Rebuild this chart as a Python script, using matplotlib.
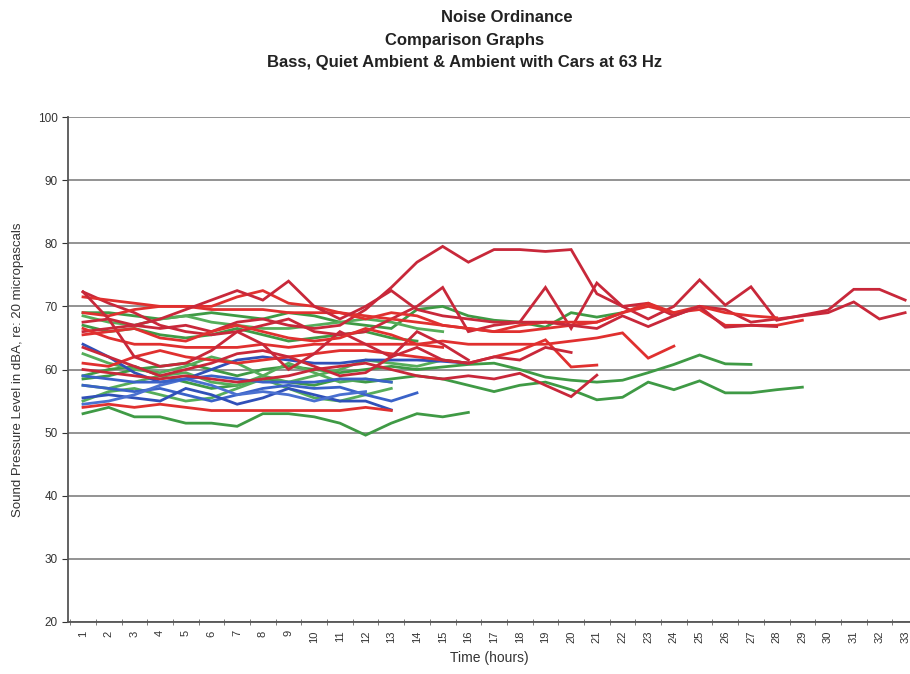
import matplotlib
matplotlib.use("Agg")
import matplotlib.pyplot as plt
from matplotlib.ticker import MultipleLocator

plt.rcParams['font.family'] = ['Liberation Sans', 'DejaVu Sans']

# hours on the category axis
hours = list(range(1, 34))

# red series (bass)
red_series = [
    [67.5, 68, 67, 66.5, 67, 66, 67.5, 68, 67, 66.5, 67, 69.5, 73, 77, 79.5, 77, 79, 79, 78.7, 79,
     72, 70, 70.5, 68.5, 70, 69.5, 67.5, 68, 68.5, 69, 70.7, 68, 69],
    [72.3, 70.5, 69, 67, 66, 65.5, 66, 67, 68, 66, 65.5, 66, 68, 70, 73, 66, 67, 67.5, 73, 66.5,
     73.7, 70, 68, 70, 74.2, 70.2, 73.1, 67.8, 68.6, 69.4, 72.7, 72.7, 71],
    [71.5, 71, 70.5, 70, 70, 69.5, 69.5, 69.5, 69, 69, 69, 68.5, 68, 67.5, 67, 66.5, 66, 67, 67.5,
     67.5, 67.5, 69, 70.5, 69, 69.5, 67, 67, 67, 67.8],
    [69, 68.5, 69.5, 70, 70, 70, 71.5, 72.5, 70.5, 70, 69, 68, 69, 68.5, 67, 66.5, 66, 66, 66.5,
     67, 67.5, 69, 70, 69, 70, 69, 68.5, 68.2],
    [66, 66.5, 67, 68, 69.5, 71, 72.5, 71, 74, 70, 68, 70, 72.5, 69.5, 68.5, 68, 67.5, 67.5, 67.5,
     67, 66.5, 68.5, 66.8, 68.5, 70, 66.7, 67, 66.8],
    [66.5, 65, 64, 64, 63.5, 63.5, 63.5, 64, 63.5, 64, 64, 64, 64, 64, 64.5, 64, 64, 64, 64, 64.5,
     65, 65.8, 61.8, 63.7],
    [61, 60.5, 62, 63, 62, 61.5, 61, 61.5, 62, 62.5, 63, 63, 62.5, 62, 61.5, 61, 62, 63, 64.7,
     60.4, 60.7],
    [63.5, 62, 60.5, 59, 60, 61, 62.5, 63, 62, 60.5, 59, 59.5, 62, 63.5, 61.5, 61, 62, 61.5, 63.5,
     62.7],
    [60, 59.5, 59, 58.5, 59, 58.5, 58, 58.5, 59, 60, 60.5, 61, 60, 59, 58.5, 59, 58.5, 59.4, 57.5,
     55.7, 59.1],
    [54, 54.5, 54, 54.5, 54, 53.5, 53.5, 53.5, 53.5, 53.5, 53.5, 54, 53.5],
    [72.3, 68, 62, 60.5, 61, 63, 66, 64, 60, 62.5, 66, 64, 62, 66, 64, 61.5],
    [65.5, 66, 66.5, 65, 64.5, 66, 67, 66, 65, 64.5, 65, 66.5, 65.5, 64, 63.5],
]
red_colors = ['#c8283a', '#c8283a', '#e0302f', '#e0302f', '#c8283a', '#e0302f',
              '#e0302f', '#c8283a', '#c8283a', '#e0302f', '#c8283a', '#e0302f']

# green series (quiet ambient)
green_series = [
    [69, 69, 68.5, 68, 68.5, 69, 68.5, 68, 69, 68.5, 67.5, 67, 66.5, 69.5, 70, 68.5, 67.8, 67.5,
     66.7, 69, 68.3, 69],
    [68.5, 67.5, 67, 68, 68.5, 67.5, 67, 66.5, 66.5, 67, 67.5, 68, 67.5, 66.5, 66],
    [67, 66, 66.5, 65.5, 65, 65.5, 66.5, 65.5, 64.5, 65, 65.5, 66, 65, 64.5],
    [58.5, 59, 60, 60.5, 61, 60, 59, 60, 60.5, 60, 59.5, 60, 60.5, 60, 60.4, 60.8, 61, 60, 58.8,
     58.3, 58, 58.3, 59.5, 60.8, 62.3, 60.9, 60.8],
    [59, 60, 60.5, 59, 58, 57, 57.5, 58.5, 58, 57.5, 58.5, 58, 58.5, 59, 58.5, 57.5, 56.5, 57.5,
     58, 56.8, 55.2, 55.6, 58, 56.8, 58.2, 56.3, 56.3, 56.8, 57.2],
    [53, 54, 52.5, 52.5, 51.5, 51.5, 51, 53, 53, 52.5, 51.5, 49.6, 51.5, 53, 52.5, 53.2],
    [57.5, 57, 58, 59, 59.5, 58, 57.5, 59, 61, 59.5, 58, 58.5, 58],
    [55, 56.5, 57, 56, 55, 55.5, 57, 58.5, 57, 55.5, 55, 56, 57],
    [62.5, 61, 60, 59.5, 60.5, 62, 61, 59, 58, 59, 60, 61.5, 61, 60.5, 61.5, 61],
]
green_colors = ['#3f9a45', '#56ad5a', '#3f9a45', '#3f9a45', '#3f9a45', '#3f9a45',
                '#56ad5a', '#56ad5a', '#56ad5a']

# blue series (ambient with cars)
blue_series = [
    [64, 62, 59.5, 58, 58.5, 60, 61.5, 62, 61.5, 61, 61, 61.5, 61.5, 61.5, 61.3, 61],
    [57.5, 57, 56.5, 57, 56, 55, 56, 57, 57.5, 57, 57.2, 56, 55, 56.3],
    [55.5, 56, 55.5, 55, 57, 56, 54.5, 55.5, 57, 56, 55, 55, 53.6],
    [54.5, 55, 56, 57.5, 58.5, 57.5, 56, 56.5, 56, 55, 56, 56.5],
    [59, 58.5, 58, 58, 58.5, 59, 58.5, 58, 58, 58, 58.5, 58.5, 58],
]
blue_colors = ['#3050b8', '#3a62c8', '#3050b8', '#4a70d0', '#3a62c8']

y_ticks = [20, 30, 40, 50, 60, 70, 80, 90, 100]


def main():
    fig = plt.figure(figsize=(9.1, 6.74), dpi=100)
    ax = fig.add_axes([68 / 910, 52 / 674, 842 / 910, 505 / 674])

    for vals, c in zip(green_series, green_colors):
        ax.plot(hours[:len(vals)], vals, color=c, lw=2.0, solid_joinstyle='miter')
    for vals, c in zip(blue_series, blue_colors):
        ax.plot(hours[:len(vals)], vals, color=c, lw=2.0, solid_joinstyle='miter')
    for vals, c in zip(red_series, red_colors):
        ax.plot(hours[:len(vals)], vals, color=c, lw=2.0, solid_joinstyle='miter')

    ax.set_xlim(0.416, 33.19)
    ax.set_ylim(20, 100)
    ax.set_yticks(y_ticks)
    ax.set_xticks(hours)
    ax.set_xticklabels([str(h) for h in hours], rotation=90, fontsize=8, color='#333333')
    ax.xaxis.set_minor_locator(MultipleLocator(1, offset=0.5))
    ax.tick_params(axis='x', which='major', length=0, pad=6)
    ax.tick_params(axis='x', which='minor', length=4, direction='inout', color='#666666')
    ax.tick_params(axis='y', labelsize=8.5, length=4, colors='#333333')
    ax.grid(axis='y', color='#8a8a8a', lw=1.3)
    ax.set_axisbelow(True)

    for s in ['top', 'right']:
        ax.spines[s].set_visible(False)
    ax.spines['left'].set_color('#555555')
    ax.spines['bottom'].set_color('#555555')
    ax.spines['left'].set_linewidth(1.3)
    ax.spines['bottom'].set_linewidth(1.3)

    ax.set_ylabel('Sound Pressure Level in dBA, re: 20 micropascals', fontsize=9.5,
                  color='#333333', labelpad=10)
    ax.set_xlabel('Time (hours)', fontsize=10, color='#333333', labelpad=6)

    fig.text(507 / 910, 1 - 17 / 674, 'Noise Ordinance', ha='center', va='center',
             fontsize=12, fontweight='bold', color='#222222')
    fig.text(465 / 910, 1 - 40 / 674, 'Comparison Graphs', ha='center', va='center',
             fontsize=12, fontweight='bold', color='#222222')
    fig.text(465 / 910, 1 - 62 / 674, 'Bass, Quiet Ambient & Ambient with Cars at 63 Hz',
             ha='center', va='center', fontsize=12, fontweight='bold', color='#222222')

    fig.savefig('out.png', dpi=100)


if __name__ == "__main__":
    main()
